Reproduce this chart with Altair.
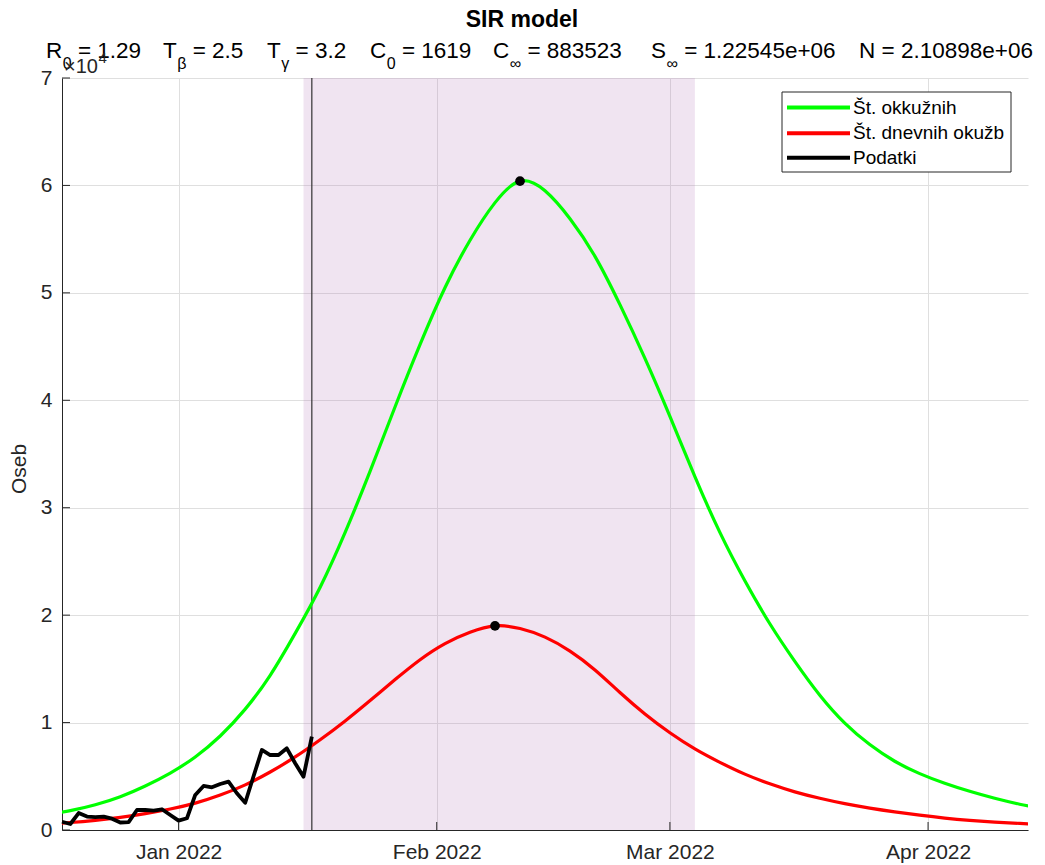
import altair as alt
import pandas as pd

BASE = pd.Timestamp("2022-01-01")

curve_days = [-16, -13, -10, -7, -4, -1, 2, 5, 8, 11, 14, 17, 20, 23, 26, 29, 32, 35, 38, 41,
              44, 47, 50, 53, 56, 59, 62, 65, 68, 71, 74, 77, 80, 83, 86, 89, 92, 95, 98, 101, 104]
green_vals = [1400, 1800, 2350, 3100, 4100, 5300, 6800, 8750, 11250, 14400, 18300, 22600,
              27700, 33400, 39400, 45200, 50500, 54900, 58400, 60400, 59500, 56900, 53400,
              48900, 43900, 38500, 32900, 27700, 23200, 19200, 15700, 12550, 9950, 7950, 6400,
              5250, 4350, 3600, 2950, 2400, 1950]
red_vals = [560, 700, 900, 1170, 1520, 1950, 2500, 3250, 4200, 5400, 6800, 8400, 10150,
            12050, 14000, 15850, 17350, 18400, 19000, 18750, 17950, 16650, 14900, 12800,
            10800, 9050, 7550, 6300, 5200, 4300, 3550, 2950, 2450, 2040, 1690, 1380, 1110,
            900, 740, 610, 500]

# ---- observed daily data (18 Dec 2021 .. 17 Jan 2022) ----
data_start = "2021-12-18"
data_vals = [770, 560, 1580, 1250, 1200, 1240, 1050, 700, 740, 1860, 1860, 1800, 1930, 1400,
             870, 1090, 3260, 4100, 3970, 4280, 4500, 3420, 2540, 5000, 7450, 6980, 6980,
             7600, 6210, 4960, 8690]

# peaks
peak_days = [41, 38]
peak_vals = [60400, 19000]

# shaded window and vertical marker
shade_start, shade_end = 15, 62
vline_day = 16

legend_labels = ["Št. okkužnih", "Št. dnevnih okužb", "Podatki"]
legend_colors = ["#00FF00", "#FF0000", "#000000"]

x_tick_dates = ["2022-01-01", "2022-02-01", "2022-03-01", "2022-04-01"]
y_tick_vals = [0, 10000, 20000, 30000, 40000, 50000, 60000, 70000]

FONT = "Liberation Sans"
AX = "#262626"
W, H = 966, 752


def d2s(d):
    return (BASE + pd.Timedelta(days=d)).strftime("%Y-%m-%dT00:00:00")


green_df = pd.DataFrame({"date": [d2s(d) for d in curve_days], "v": green_vals})
red_df = pd.DataFrame({"date": [d2s(d) for d in curve_days], "v": red_vals})
data_dates = pd.date_range(data_start, periods=len(data_vals), freq="D")
data_df = pd.DataFrame({"date": [d.strftime("%Y-%m-%dT00:00:00") for d in data_dates], "v": data_vals})
peak_df = pd.DataFrame({"date": [d2s(d) for d in peak_days], "v": peak_vals})
shade_df = pd.DataFrame({"date": [d2s(shade_start)], "e": [d2s(shade_end)]})
vline_df = pd.DataFrame({"date": [d2s(vline_day)]})
xt_df = pd.DataFrame({"date": [s + "T00:00:00" for s in x_tick_dates]})
yt_df = pd.DataFrame({"v": y_tick_vals})

x_scale = alt.Scale(domain=[alt.DateTime(year=2021, month=12, date=18),
                            alt.DateTime(year=2022, month=4, date=13)])
y_scale = alt.Scale(domain=[0, 70000], nice=False, zero=True)

x_axis = alt.Axis(values=[alt.DateTime(year=2022, month=m, date=1) for m in [1, 2, 3, 4]],
                  format="%b %Y", title=None, labelFont=FONT, labelFontSize=21,
                  labelColor=AX, ticks=False, tickSize=0, labelPadding=11,
                  domainColor=AX, domainWidth=1, grid=True, gridColor="#DFDFDF",
                  labelFlush=False, labelOverlap=False)
y_axis = alt.Axis(values=y_tick_vals, labelExpr="datum.value / 10000", title=None,
                  labelFont=FONT, labelFontSize=21, labelColor=AX, ticks=False,
                  tickSize=0, labelPadding=10, domainColor=AX, domainWidth=1,
                  grid=True, gridColor="#DFDFDF", labelFlush=False)


def X(f="date"):
    return alt.X(f + ":T", scale=x_scale, axis=x_axis)


def Y(f="v"):
    return alt.Y(f + ":Q", scale=y_scale, axis=y_axis)


shade = alt.Chart(shade_df).mark_rect(color="#B478B9", opacity=0.2).encode(
    x=X(), x2="e:T", y=alt.value(0), y2=alt.value(H))

vline = alt.Chart(vline_df).mark_rule(color="#333333", strokeWidth=1.2).encode(x=X())

green = alt.Chart(green_df).mark_line(color="#00FF00", strokeWidth=3.2, interpolate="natural",
                                      clip=True).encode(x=X(), y=Y())
red = alt.Chart(red_df).mark_line(color="#FF0000", strokeWidth=3.2, interpolate="natural",
                                  clip=True).encode(x=X(), y=Y())
obs = alt.Chart(data_df).mark_line(color="#000000", strokeWidth=3.8, strokeJoin="round").encode(
    x=X(), y=Y())
peaks = alt.Chart(peak_df).mark_circle(color="#000000", size=95, opacity=1).encode(x=X(), y=Y())

xticks = alt.Chart(xt_df).mark_rule(color=AX, strokeWidth=1).encode(
    x=X(), y=alt.value(H), y2=alt.value(H - 8))
yticks = alt.Chart(yt_df).mark_rule(color=AX, strokeWidth=1).encode(
    y=Y(), x=alt.value(0), x2=alt.value(8))

layers = [shade, vline, green, red, obs, peaks, xticks, yticks]


def txt(s, x, y, size, color="#000000", weight="normal", align="left", baseline="alphabetic", angle=0):
    df = pd.DataFrame({"t": [s]})
    kw = dict(font=FONT, fontSize=size, color=color, fontWeight=weight, align=align,
              baseline=baseline)
    if angle:
        kw["angle"] = angle
    return alt.Chart(df).mark_text(**kw).encode(text="t:N", x=alt.value(x), y=alt.value(y))


# ---- legend (box, line samples, labels) ----
LX0, LX1, LY0, LY1 = 720, 949, 14, 94
layers.append(alt.Chart(pd.DataFrame({"a": [0]})).mark_rect(
    fill="white", stroke=AX, strokeWidth=1).encode(
    x=alt.value(LX0), x2=alt.value(LX1), y=alt.value(LY0), y2=alt.value(LY1)))
row_y = [29.5, 55.3, 79.7]
for lab, col, ry in zip(legend_labels, legend_colors, row_y):
    layers.append(alt.Chart(pd.DataFrame({"a": [0]})).mark_rule(color=col, strokeWidth=4).encode(
        x=alt.value(725), x2=alt.value(788), y=alt.value(ry)))
    layers.append(txt(lab, 791, ry, 19, color="#000000", baseline="middle"))

# ---- titles ----
AW = {' ': 278, '=': 584, '.': 278, '+': 584, 'e': 556, 'R': 722, 'T': 611, 'C': 722,
      'S': 667, 'N': 722, 'β': 575, 'γ': 500, '∞': 713, '×': 584}


def tw(s, size):
    return sum(AW.get(c, 556) for c in s) * size / 1000.0


layers.append(txt("SIR model", 460, -51, 23, weight="bold", align="center"))

terms = [("R", "0", "= 1.29"), ("T", "β", "= 2.5"), ("T", "γ", "= 3.2"), ("C", "0", "= 1619"),
         ("C", "∞", "= 883523"), ("S", "∞", "= 1.22545e+06"), ("N", "", "= 2.10898e+06")]
term_starts = [46, 163, 267, 370, 493, 651, 859]
MS, SS = 22.5, 16
for (L, sub, rest), sx in zip(terms, term_starts):
    px = sx - 62
    layers.append(txt(L, px, -20, MS))
    nx = px + tw(L, MS)
    if sub:
        layers.append(txt(sub, nx + 0.5, -9, SS))
        nx = nx + 0.5 + tw(sub, SS)
    layers.append(txt(rest, nx + tw(" ", MS), -20, MS))

# exponent label
layers.append(txt("×10", 2, -5, 20, color=AX))
layers.append(txt("4", 2 + tw("×10", 20) + 0.5, -15, 15, color=AX))

# y axis title
layers.append(txt("Oseb", -42, 391, 21, color=AX, align="center", baseline="middle", angle=270))

chart = alt.layer(*layers).properties(
    width=W, height=H,
    padding={"left": 54, "top": 70, "right": 8, "bottom": 34},
    autosize=alt.AutoSizeParams(type="none"),
    background="white",
).configure_view(stroke=None)

chart.save("out.html", embed_options={"renderer": "svg", "actions": False})
